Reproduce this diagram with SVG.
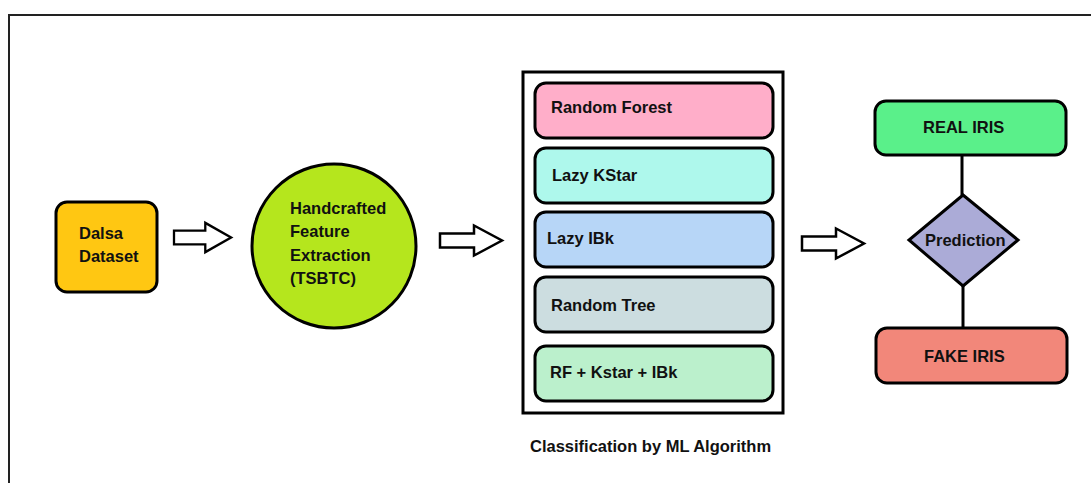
<svg xmlns="http://www.w3.org/2000/svg" width="1091" height="483" viewBox="0 0 1091 483">
  <style>
    .lbl { font-family: "Liberation Sans", Arial, sans-serif; font-weight: bold; font-size: 16.5px; fill: #111; }
    .box { stroke: #000; stroke-width: 3; }
    .arrow { fill: #fff; stroke: #000; stroke-width: 2.5; stroke-linejoin: miter; }
    .link { stroke: #000; stroke-width: 3; fill: none; }
  </style>
  <defs>
    <!-- hollow block arrow, 66 wide x 32 tall, origin at left middle -->
    <path id="blockArrow" d="M0,-7 H34 V-15 L62,0 L34,15 V7 H0 Z"/>
  </defs>

  <rect width="1091" height="483" fill="#fff"/>
  <!-- outer frame -->
  <path d="M9,483 V15 H1091" fill="none" stroke="#222" stroke-width="2"/>

  <g id="dalsa">
    <rect class="box" x="56" y="202" width="101" height="90" rx="11" fill="#FFC712"/>
    <text class="lbl" x="79" y="239">Dalsa</text>
    <text class="lbl" x="79" y="262">Dataset</text>
  </g>

  <g id="feature-extraction">
    <circle class="box" cx="334" cy="246" r="82" fill="#B5E61D"/>
    <text class="lbl" x="290" y="214">Handcrafted</text>
    <text class="lbl" x="290" y="237">Feature</text>
    <text class="lbl" x="290" y="261">Extraction</text>
    <text class="lbl" x="290" y="284">(TSBTC)</text>
  </g>

  <g id="classifiers">
    <rect x="523" y="72" width="260" height="341" fill="#fff" stroke="#000" stroke-width="3"/>
    <rect class="box" x="535" y="83" width="238" height="55" rx="11" fill="#FFAEC9"/>
    <text class="lbl" x="551" y="113">Random Forest</text>
    <rect class="box" x="535" y="148" width="238" height="55" rx="11" fill="#AEF8EC"/>
    <text class="lbl" x="552" y="181">Lazy KStar</text>
    <rect class="box" x="535" y="212" width="238" height="55" rx="11" fill="#B7D6F7"/>
    <text class="lbl" x="547" y="244">Lazy IBk</text>
    <rect class="box" x="535" y="277" width="238" height="55" rx="11" fill="#CCDDE0"/>
    <text class="lbl" x="551" y="311">Random Tree</text>
    <rect class="box" x="535" y="346" width="238" height="55" rx="11" fill="#BBF0CC"/>
    <text class="lbl" x="550" y="378">RF + Kstar + IBk</text>
    <text class="lbl" x="530" y="452">Classification by ML Algorithm</text>
  </g>

  <g id="real-iris">
    <rect class="box" x="875" y="101" width="191" height="54" rx="11" fill="#5AF08A"/>
    <text class="lbl" x="923" y="133">REAL IRIS</text>
  </g>

  <g id="prediction">
    <path class="box" d="M963,195 L1018,240 L963,286 L909,240 Z" fill="#ABABD7"/>
    <text class="lbl" x="925" y="246">Prediction</text>
  </g>

  <g id="fake-iris">
    <rect class="box" x="876" y="328" width="191" height="55" rx="11" fill="#F2877A"/>
    <text class="lbl" x="924" y="362">FAKE IRIS</text>
  </g>

  <g id="connectors">
    <use href="#blockArrow" class="arrow" transform="translate(174,237.5) scale(0.92,0.98)"/>
    <use href="#blockArrow" class="arrow" transform="translate(440,240.5)"/>
    <use href="#blockArrow" class="arrow" transform="translate(802,243.5)"/>
    <line class="link" x1="962" y1="155" x2="962" y2="195"/>
    <line class="link" x1="963" y1="286" x2="963" y2="328"/>
  </g>
</svg>
